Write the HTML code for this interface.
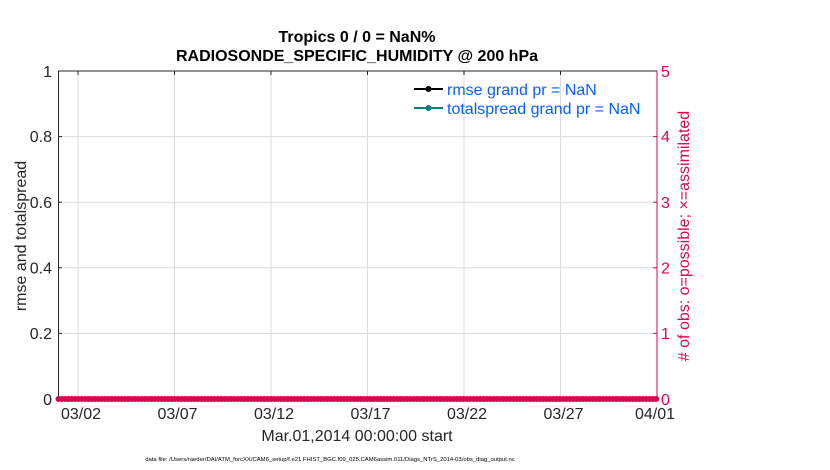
<!DOCTYPE html>
<html><head><style>
body{margin:0;background:#fff;}
svg{display:block;font-family:"Liberation Sans",Arial,sans-serif;}
</style></head><body>
<svg width="830" height="470" viewBox="0 0 830 470" xmlns="http://www.w3.org/2000/svg">
<rect width="830" height="470" fill="#fff"/>
<g stroke="#dcdcdc" stroke-width="1">
<line x1="78" y1="71" x2="78" y2="399"/>
<line x1="174.5" y1="71" x2="174.5" y2="399"/>
<line x1="271" y1="71" x2="271" y2="399"/>
<line x1="367.5" y1="71" x2="367.5" y2="399"/>
<line x1="464" y1="71" x2="464" y2="399"/>
<line x1="560.5" y1="71" x2="560.5" y2="399"/>
<line x1="58" y1="333.4" x2="657" y2="333.4"/>
<line x1="58" y1="267.8" x2="657" y2="267.8"/>
<line x1="58" y1="202.2" x2="657" y2="202.2"/>
<line x1="58" y1="136.6" x2="657" y2="136.6"/>
</g>
<line x1="58.5" y1="71" x2="657" y2="71" stroke="#262626" stroke-width="1"/>
<line x1="58.5" y1="71" x2="58.5" y2="399" stroke="#262626" stroke-width="1"/>
<line x1="657" y1="71" x2="657" y2="399" stroke="#d6094f" stroke-width="1"/>
<line x1="58.5" y1="399" x2="657" y2="399" stroke="#262626" stroke-width="1"/>
<g stroke="#262626"><line x1="58.5" y1="136.6" x2="62" y2="136.6"/><line x1="58.5" y1="202.2" x2="62" y2="202.2"/><line x1="58.5" y1="267.8" x2="62" y2="267.8"/><line x1="58.5" y1="333.4" x2="62" y2="333.4"/>
<line x1="78" y1="71" x2="78" y2="75"/><line x1="174.5" y1="71" x2="174.5" y2="75"/><line x1="271" y1="71" x2="271" y2="75"/><line x1="367.5" y1="71" x2="367.5" y2="75"/><line x1="464" y1="71" x2="464" y2="75"/><line x1="560.5" y1="71" x2="560.5" y2="75"/></g>
<g stroke="#d6094f"><line x1="653" y1="136.6" x2="657" y2="136.6"/><line x1="653" y1="202.2" x2="657" y2="202.2"/><line x1="653" y1="267.8" x2="657" y2="267.8"/><line x1="653" y1="333.4" x2="657" y2="333.4"/></g>
<g font-size="16" fill="#262626" text-anchor="end">
<text x="52" y="405">0</text><text x="52" y="339">0.2</text><text x="52" y="273.5">0.4</text><text x="52" y="208">0.6</text><text x="52" y="142">0.8</text><text x="52" y="77">1</text>
</g>
<g font-size="16" fill="#d6094f">
<text x="661" y="405">0</text><text x="661" y="339">1</text><text x="661" y="273.5">2</text><text x="661" y="208">3</text><text x="661" y="142">4</text><text x="661" y="77">5</text>
</g>
<g font-size="16" fill="#262626" text-anchor="middle">
<text x="81" y="419">03/02</text><text x="177.5" y="419">03/07</text><text x="274" y="419">03/12</text><text x="370.5" y="419">03/17</text><text x="467" y="419">03/22</text><text x="563.5" y="419">03/27</text><text x="655" y="419">04/01</text>
<text x="357" y="441">Mar.01,2014 00:00:00 start</text>
</g>
<text x="26" y="236" font-size="16" fill="#262626" text-anchor="middle" transform="rotate(-90 26 236)">rmse and totalspread</text>
<text x="689" y="236" font-size="16" fill="#d6094f" text-anchor="middle" transform="rotate(-90 689 236)"># of obs: o=possible; ×=assimilated</text>
<text x="357" y="42" font-size="16" font-weight="bold" fill="#000" text-anchor="middle">Tropics 0 / 0 = NaN%</text>
<text x="357" y="61" font-size="16" font-weight="bold" fill="#000" text-anchor="middle">RADIOSONDE_SPECIFIC_HUMIDITY @ 200 hPa</text>
<line x1="58.5" y1="399" x2="657" y2="399" stroke="#d6094f" stroke-width="4"/>
<line x1="58.5" y1="399" x2="657" y2="399" stroke="#d6094f" stroke-width="6" stroke-linecap="round" stroke-dasharray="0.1 3.22"/>
<line x1="414" y1="89" x2="443" y2="89" stroke="#000" stroke-width="2"/>
<circle cx="428.5" cy="89" r="3" fill="#000"/>
<text x="447" y="95" font-size="16" fill="#0a5eff">rmse grand pr = NaN</text>
<line x1="414" y1="108" x2="443" y2="108" stroke="#0a8080" stroke-width="2"/>
<circle cx="428.5" cy="108" r="3" fill="#0a8080"/>
<text x="447" y="114" font-size="16" fill="#0a5eff">totalspread grand pr = NaN</text>
<text x="330" y="461" font-size="5.9" fill="#000" text-anchor="middle">data file: /Users/raeder/DAI/ATM_forcXX/CAM6_setup/f.e21.FHIST_BGC.f09_025.CAM6assim.011/Diags_NTrS_2014-03/obs_diag_output.nc</text>
</svg>
</body></html>
